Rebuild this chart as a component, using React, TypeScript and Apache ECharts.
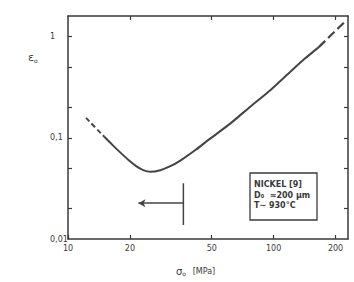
import React, { useEffect, useRef } from "react";
import * as echarts from "echarts";

// Curve (solid part) sigma_o [MPa] vs epsilon_o
const curveX = [14.98, 16.39, 17.94, 19.62, 21.46, 23.22, 25.12, 28.1, 31.45, 35.18, 41.65, 49.28, 61.7, 77.23, 96.69, 121.0, 140.1, 165.8];
const curveY = [0.103, 0.0857, 0.0718, 0.0608, 0.0526, 0.048, 0.0462, 0.0479, 0.0524, 0.0596, 0.0757, 0.0987, 0.139, 0.2044, 0.297, 0.452, 0.593, 0.788];
// Dashed extrapolations
const dashLowX = [12.24, 13.54, 14.98];
const dashLowY = [0.1574, 0.1272, 0.103];
const dashHighX = [165.8, 219.5];
const dashHighY = [0.788, 1.374];
// Arrow and bar marker
const arrowX = [36.4, 22];
const arrowYVal = 0.0226;
const barX = 36.4;
const barY = [0.0356, 0.01374];
// Axis ticks
const xTicks = [10, 20, 50, 100, 200];
const xTopTicks = [20, 50, 100, 200];
const yTicks = [0.02, 0.05, 0.1, 0.2, 0.5, 1];
const yLabels = [0.01, 0.1, 1];

const zip = (xs: number[], ys: number[]) => xs.map((x, i) => [x, ys[i]]);

const FONT = "DejaVu Sans";
const INK = "#3a3a3a";

export default function App() {
  const ref = useRef<HTMLDivElement>(null);
  useEffect(() => {
    if (!ref.current) return;
    const chart = echarts.init(ref.current, undefined, { renderer: "svg" });
    const axisLine = { show: true, lineStyle: { color: INK, width: 1.5 } };
    chart.setOption({
      animation: false,
      backgroundColor: "#ffffff",
      grid: { left: 68, top: 16, right: 6, bottom: 43 },
      xAxis: [
        {
          type: "log",
          logBase: 10,
          min: 10,
          max: 230,
          axisLine,
          splitLine: { show: false },
          minorTick: { show: false },
          axisTick: { show: true, inside: true, length: 4, customValues: xTicks, lineStyle: { color: INK, width: 1.2 } },
          axisLabel: {
            customValues: xTicks,
            margin: 5,
            fontFamily: FONT,
            fontSize: 8,
            color: INK,
            formatter: (v: number) => String(v),
          },
        },
        {
          type: "log",
          logBase: 10,
          min: 10,
          max: 230,
          position: "top",
          axisLine,
          splitLine: { show: false },
          axisTick: { show: true, inside: true, length: 4, customValues: xTopTicks, lineStyle: { color: INK, width: 1.2 } },
          axisLabel: { show: false },
        },
      ],
      yAxis: [
        {
          type: "log",
          logBase: 10,
          min: 0.01,
          max: 1.6,
          axisLine,
          splitLine: { show: false },
          axisTick: { show: true, inside: true, length: 4, customValues: yTicks, lineStyle: { color: INK, width: 1.2 } },
          axisLabel: {
            customValues: yLabels,
            margin: 18,
            align: "left",
            fontFamily: FONT,
            fontSize: 8,
            color: INK,
            formatter: (v: number) => String(v).replace(".", ","),
          },
        },
        {
          type: "log",
          logBase: 10,
          min: 0.01,
          max: 1.6,
          position: "right",
          axisLine,
          splitLine: { show: false },
          axisTick: { show: true, inside: true, length: 4, customValues: yTicks, lineStyle: { color: INK, width: 1.2 } },
          axisLabel: { show: false },
        },
      ],
      series: [
        {
          type: "line",
          data: zip(curveX, curveY),
          smooth: 0.25,
          showSymbol: false,
          lineStyle: { color: "#444", width: 2 },
        },
        {
          type: "line",
          data: zip(dashLowX, dashLowY),
          smooth: true,
          showSymbol: false,
          lineStyle: { color: "#444", width: 2, type: [5, 3] },
        },
        {
          type: "line",
          data: zip(dashHighX, dashHighY),
          showSymbol: false,
          lineStyle: { color: "#444", width: 2.2, type: [9, 4] },
        },
        {
          type: "line",
          data: [
            [barX, barY[0]],
            [barX, barY[1]],
          ],
          showSymbol: false,
          lineStyle: { color: "#444", width: 1.5 },
          markLine: {
            silent: true,
            symbol: ["none", "arrow"],
            symbolSize: [6, 7],
            label: { show: false },
            lineStyle: { color: "#444", width: 1.5, type: "solid" },
            data: [
              [
                { coord: [arrowX[0], arrowYVal] },
                { coord: [arrowX[1], arrowYVal] },
              ],
            ],
          },
        },
      ],
      graphic: [
        {
          type: "text",
          left: 28,
          top: 52,
          style: {
            text: "{a|ε}{s|o}",
            rich: {
              a: { fontFamily: FONT, fontSize: 11, fill: INK },
              s: { fontFamily: FONT, fontSize: 6, fill: INK, padding: [6, 0, 0, 0] },
            },
          },
        },
        {
          type: "text",
          left: 176,
          top: 265,
          style: {
            text: "{a|σ}{s|o}  {b|[MPa]}",
            rich: {
              a: { fontFamily: FONT, fontSize: 10, fill: INK },
              s: { fontFamily: FONT, fontSize: 6, fill: INK, padding: [5, 0, 0, 0] },
              b: { fontFamily: FONT, fontSize: 8, fill: INK },
            },
          },
        },
        {
          type: "rect",
          shape: { x: 250, y: 173, width: 67, height: 47 },
          style: { fill: "#fff", stroke: INK, lineWidth: 1.3 },
        },
        {
          type: "text",
          x: 254,
          y: 184,
          style: {
            text: "NICKEL [9]",
            fontFamily: FONT,
            fontSize: 8,
            fontWeight: "bold",
            fill: INK,
            verticalAlign: "middle",
          },
        },
        {
          type: "text",
          x: 254,
          y: 195,
          style: {
            text: "D₀  ≈200 μm",
            fontFamily: FONT,
            fontSize: 8,
            fontWeight: "bold",
            fill: INK,
            verticalAlign: "middle",
          },
        },
        {
          type: "text",
          x: 254,
          y: 205,
          style: {
            text: "T∼ 930°C",
            fontFamily: FONT,
            fontSize: 8,
            fontWeight: "bold",
            fill: INK,
            verticalAlign: "middle",
          },
        },
      ],
    });
    return () => chart.dispose();
  }, []);
  return (
    <div
      ref={ref}
      style={{ position: "fixed", left: 0, top: 0, width: 354, height: 282, background: "#fff" }}
    />
  );
}
